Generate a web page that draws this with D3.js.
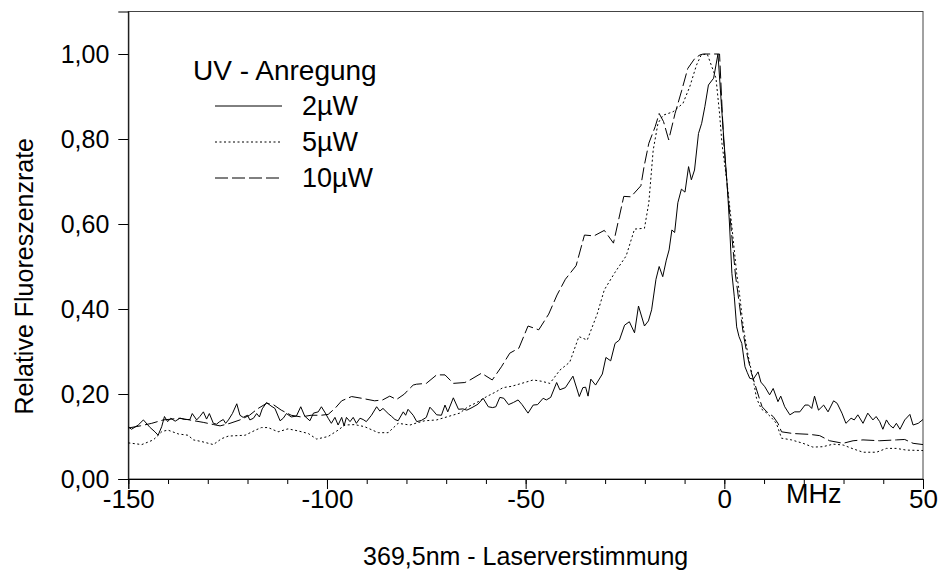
<!DOCTYPE html>
<html><head><meta charset="utf-8">
<script src="https://cdn.jsdelivr.net/npm/d3@7"></script>
<style>
html,body{margin:0;padding:0;background:#fff;}
svg{display:block;font-family:"Liberation Sans",Arial,sans-serif;}
</style></head>
<body>
<svg id="chart" width="941" height="575"></svg>
<script>
// ---- data (MHz detuning, relative fluorescence) ----
const xTicksMajor = [-150, -100, -50, 0, 50];
const xTicksMinor = d3.range(-150, 51, 10);
const yTicks = [0, 0.2, 0.4, 0.6, 0.8, 1.0];
const seriesNames = ["2\u00b5W", "5\u00b5W", "10\u00b5W"];
const legendTitle = "UV - Anregung";
const xTitle = "369,5nm - Laserverstimmung";
const yTitle = "Relative Fluoreszenzrate";
const xUnit = "MHz";

const data2uW = [
[-150,0.123],[-149.2,0.117],[-147.5,0.127],[-146.2,0.139],[-144.5,0.121],[-143.3,0.111],[-142.5,0.103],
[-141.6,0.123],[-140.9,0.147],[-140.1,0.135],[-139.3,0.143],[-138.2,0.136],[-137.0,0.143],[-135.8,0.140],
[-134.5,0.140],[-133.9,0.154],[-132.8,0.139],[-132.0,0.147],[-131.1,0.158],[-130.3,0.141],[-129.6,0.154],
[-128.6,0.131],[-127.8,0.129],[-127.0,0.135],[-126.1,0.140],[-125.5,0.131],[-124.8,0.139],[-123.8,0.154],
[-122.7,0.177],[-121.9,0.150],[-121.1,0.145],[-120.0,0.150],[-119.4,0.139],[-118.5,0.143],[-117.7,0.154],
[-117.0,0.146],[-116.3,0.165],[-115.2,0.180],[-114.1,0.172],[-113.1,0.166],[-111.8,0.137],[-111.0,0.143],
[-110.2,0.154],[-109.0,0.146],[-107.7,0.148],[-106.6,0.170],[-105.6,0.148],[-104.3,0.137],[-103.4,0.155],
[-102.2,0.158],[-101.4,0.170],[-100.4,0.155],[-99.7,0.143],[-98.9,0.131],[-98.0,0.145],[-97.2,0.127],
[-96.3,0.145],[-95.7,0.125],[-95.1,0.145],[-94.2,0.135],[-93.4,0.145],[-92.6,0.131],[-91.7,0.143],
[-90.9,0.140],[-90.1,0.135],[-88.8,0.150],[-87.5,0.170],[-86.7,0.160],[-85.9,0.166],[-84.6,0.154],
[-83.7,0.147],[-82.9,0.140],[-82.1,0.137],[-80.8,0.158],[-80.2,0.150],[-79.6,0.164],[-78.3,0.150],
[-77.4,0.135],[-76.2,0.138],[-75.0,0.145],[-74.1,0.169],[-73.2,0.160],[-72.4,0.151],[-71.2,0.150],
[-70.3,0.174],[-69.6,0.158],[-68.2,0.191],[-66.9,0.164],[-65.8,0.165],[-64.8,0.162],[-63.5,0.168],
[-62.0,0.176],[-60.7,0.190],[-59.4,0.170],[-58.3,0.168],[-57.5,0.170],[-56.5,0.192],[-55.5,0.190],
[-54.3,0.175],[-53.1,0.180],[-51.9,0.186],[-50.9,0.175],[-49.4,0.155],[-48.1,0.174],[-47.0,0.175],
[-45.6,0.190],[-44.8,0.186],[-43.7,0.192],[-42.2,0.227],[-41.4,0.210],[-40.0,0.215],[-38.1,0.242],
[-36.5,0.194],[-35.6,0.215],[-34.9,0.216],[-34.3,0.195],[-33.6,0.235],[-32.4,0.221],[-30.7,0.247],
[-29.8,0.286],[-28.6,0.278],[-27.5,0.319],[-26.4,0.327],[-25.1,0.362],[-23.9,0.370],[-22.6,0.344],
[-21.6,0.407],[-20.1,0.360],[-19.1,0.372],[-18.3,0.398],[-17.2,0.470],[-16.4,0.500],[-15.5,0.476],
[-14.6,0.515],[-13.9,0.539],[-13.2,0.586],[-12.5,0.580],[-11.7,0.650],[-10.8,0.682],[-9.9,0.675],
[-9.0,0.735],[-8.3,0.704],[-7.5,0.727],[-6.5,0.813],[-5.7,0.837],[-4.9,0.876],[-4.0,0.927],
[-2.7,0.943],[-1.6,1.000],[-0.7,0.876],[0.2,0.758],[0.8,0.680],[1.3,0.600],[1.9,0.484],[2.5,0.430],
[3.1,0.358],[3.7,0.335],[4.4,0.319],[5.2,0.264],[5.8,0.250],[6.4,0.237],[7.3,0.235],[8.5,0.252],
[9.2,0.228],[10.2,0.217],[11.4,0.198],[12.3,0.213],[13.5,0.182],[14.2,0.195],[15.2,0.170],[16.5,0.151],
[17.7,0.158],[19.0,0.158],[20.3,0.174],[21.2,0.174],[22.0,0.166],[22.7,0.195],[23.7,0.162],[25.0,0.174],
[26.1,0.158],[27.5,0.184],[28.4,0.178],[29.6,0.155],[30.6,0.131],[31.9,0.143],[32.7,0.139],[33.6,0.151],
[34.9,0.131],[36.1,0.155],[37.4,0.139],[38.2,0.147],[39.1,0.135],[39.9,0.117],[40.8,0.139],[41.6,0.127],
[42.5,0.120],[43.3,0.131],[44.2,0.117],[45.4,0.139],[46.7,0.152],[47.5,0.127],[48.8,0.131],[50,0.140]
];

const data5uW = [
[-150,0.085],[-146.6,0.081],[-143.7,0.092],[-141.5,0.112],[-140,0.115],[-137.4,0.106],[-135,0.103],
[-133.6,0.092],[-131.5,0.088],[-128.6,0.081],[-126.5,0.095],[-124.8,0.101],[-120.6,0.103],[-118,0.115],
[-116.5,0.121],[-114.8,0.121],[-112.3,0.111],[-109.8,0.118],[-107.2,0.113],[-104.7,0.107],[-102.6,0.094],
[-99.7,0.100],[-97.2,0.115],[-95.5,0.127],[-93.0,0.128],[-90.5,0.123],[-87.1,0.109],[-84.6,0.109],
[-82.1,0.131],[-79.1,0.127],[-77.4,0.132],[-75.4,0.137],[-72.4,0.139],[-69.5,0.147],[-66.6,0.155],
[-64.5,0.170],[-62.3,0.180],[-59.8,0.194],[-57.5,0.205],[-55.7,0.215],[-53.6,0.218],[-51,0.225],
[-48.1,0.233],[-46,0.230],[-43.9,0.225],[-41.4,0.256],[-38.9,0.275],[-36.6,0.335],[-34.5,0.327],
[-32.0,0.388],[-30.2,0.445],[-27.6,0.485],[-24.7,0.525],[-22.6,0.588],[-20.1,0.590],[-19.0,0.650],
[-17.9,0.774],[-16.7,0.837],[-15.4,0.856],[-12.9,0.864],[-10.4,0.884],[-8.7,0.923],[-7.0,0.974],
[-5.8,0.998],[-4.3,1.000],[-2.1,0.943],[-1.2,0.860],[-0.6,0.790],[0.65,0.700],[1.9,0.594],[3.1,0.484],
[3.8,0.437],[4.8,0.355],[6.0,0.290],[7.3,0.233],[8.1,0.190],[9.3,0.165],[10.7,0.155],[12.0,0.143],
[13.1,0.131],[14.4,0.096],[16.9,0.092],[19.8,0.084],[22.3,0.075],[24.8,0.076],[27.4,0.082],[29.9,0.080],
[32.4,0.071],[34.9,0.063],[38.3,0.063],[40.8,0.072],[43.3,0.072],[45.8,0.068],[50,0.067]
];

const data10uW = [
[-150,0.120],[-147,0.125],[-144.1,0.131],[-141.2,0.139],[-137,0.143],[-134,0.138],[-131,0.133],
[-128.5,0.128],[-126.9,0.125],[-124.4,0.131],[-121.9,0.139],[-119.5,0.150],[-117.5,0.165],[-115.2,0.178],
[-113.5,0.175],[-111.5,0.162],[-109,0.150],[-106.5,0.146],[-104,0.150],[-101.5,0.150],[-99.7,0.152],
[-98.0,0.166],[-96.3,0.184],[-93.8,0.194],[-91.3,0.190],[-88.0,0.184],[-86,0.186],[-84.2,0.195],
[-82.5,0.187],[-80.5,0.200],[-79.6,0.209],[-78.3,0.221],[-77.5,0.223],[-75,0.225],[-72.4,0.245],
[-70.3,0.245],[-68.2,0.225],[-65.3,0.227],[-64,0.233],[-61.1,0.249],[-58.4,0.233],[-56.1,0.264],
[-54.0,0.296],[-51.7,0.308],[-49.4,0.360],[-46.7,0.351],[-44.2,0.388],[-42.1,0.433],[-40.0,0.470],
[-37.3,0.502],[-35.2,0.574],[-32.8,0.572],[-30.2,0.585],[-27.9,0.555],[-25.3,0.665],[-23.5,0.664],
[-21.0,0.690],[-20.2,0.735],[-19.0,0.790],[-17.4,0.829],[-16.4,0.860],[-15.3,0.841],[-14.0,0.798],
[-12.4,0.860],[-10.7,0.915],[-9.2,0.966],[-7.4,0.990],[-6.1,0.998],[-5.3,1.000],[-3.5,1.000],
[-1.2,1.000],[-0.2,0.800],[0.8,0.680],[1.8,0.580],[2.8,0.480],[3.8,0.410],[4.8,0.340],[5.8,0.290],
[6.8,0.250],[7.8,0.220],[8.8,0.190],[9.5,0.170],[10.7,0.158],[12.3,0.147],[13.5,0.131],[14.4,0.111],
[17.3,0.107],[21.5,0.105],[24.0,0.102],[26.5,0.090],[29.9,0.084],[32.4,0.090],[34.9,0.092],[39.1,0.090],
[43.3,0.092],[45.4,0.093],[47.5,0.084],[50,0.081]
];

const seriesData = [data2uW, data5uW, data10uW];
const dashes = [null, "2,2.5", "13,4"];

// ---- drawing ----
const svg = d3.select("#chart");
const x = d3.scaleLinear().domain([-150, 50]).range([128.3, 923]);
const y = d3.scaleLinear().domain([0, 1.1]).range([479, 11.5]);
const fmt = d => d3.format(".2f")(d).replace(".", ",");
const FF = "Liberation Sans, Arial, sans-serif";

// frame
svg.append("rect").attr("x", x(-150)).attr("y", y(1.1))
  .attr("width", x(50) - x(-150)).attr("height", y(0) - y(1.1))
  .attr("fill", "none").attr("stroke", "#444").attr("stroke-width", 1);

// lines
const line = d3.line().x(d => x(d[0])).y(d => y(d[1]));
seriesData.forEach((s, i) => {
  svg.append("path").datum(s).attr("d", line)
    .attr("fill", "none").attr("stroke", "#000").attr("stroke-width", 1)
    .attr("stroke-dasharray", dashes[i]);
});

// y axis
const yAxis = svg.append("g").attr("transform", `translate(${x(-150)},0)`)
  .call(d3.axisLeft(y).tickValues(yTicks).tickFormat(fmt).tickSize(10).tickPadding(9));
yAxis.select(".domain").attr("stroke", "#000");
yAxis.selectAll("text").attr("font-size", 25).attr("fill", "#000").attr("font-family", FF);

// x axis minor
const xMinor = svg.append("g").attr("transform", `translate(0,${y(0)})`)
  .call(d3.axisBottom(x).tickValues(xTicksMinor).tickFormat("").tickSize(5));
xMinor.select(".domain").remove();
// x axis major
const xAxis = svg.append("g").attr("transform", `translate(0,${y(0)})`)
  .call(d3.axisBottom(x).tickValues(xTicksMajor).tickFormat(d3.format("d")).tickSize(10).tickPadding(1));
xAxis.select(".domain").attr("stroke", "#000");
xAxis.selectAll("text").attr("font-size", 26).attr("fill", "#000").attr("font-family", FF)
  .text(d => d < 0 ? "-" + Math.abs(d) : String(d));

// unit label
svg.append("text").attr("x", x(22.5)).attr("y", 503).attr("text-anchor", "middle")
  .attr("font-size", 27).attr("font-family", FF).text(xUnit);

// axis titles
svg.append("text").attr("x", (x(-150) + x(50)) / 2).attr("y", 565).attr("text-anchor", "middle")
  .attr("font-size", 25).attr("font-family", FF).text(xTitle);
svg.append("text").attr("transform", `translate(33,${(y(0)+y(1.1))/2 + 31}) rotate(-90)`)
  .attr("text-anchor", "middle").attr("font-size", 25).attr("font-family", FF).text(yTitle);

// legend
svg.append("text").attr("x", 193).attr("y", 80).attr("font-size", 28).attr("font-family", FF).text(legendTitle);
seriesNames.forEach((n, i) => {
  const ly = 106 + i * 36;
  svg.append("line").attr("x1", 215).attr("x2", 282).attr("y1", ly).attr("y2", ly)
    .attr("stroke", "#000").attr("stroke-width", 1).attr("stroke-dasharray", dashes[i]);
  svg.append("text").attr("x", 302).attr("y", ly + 9).attr("font-size", 27).attr("font-family", FF).text(n);
});
</script>
</body></html>
